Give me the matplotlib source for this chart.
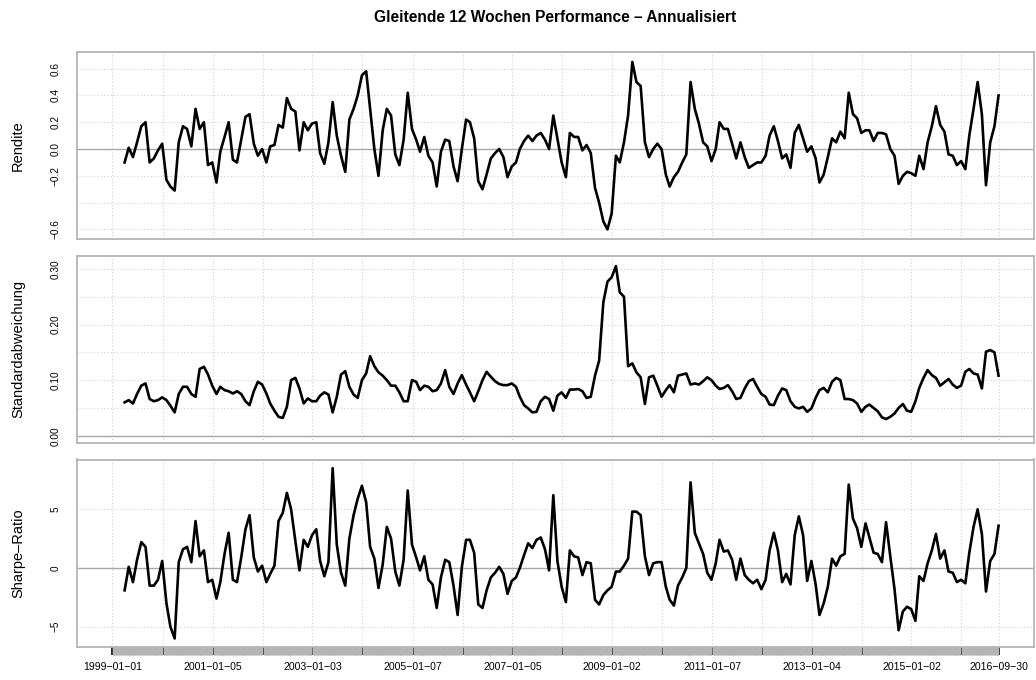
import matplotlib
matplotlib.use("Agg")
import matplotlib.pyplot as plt
import pandas as pd

plt.rcParams['font.family'] = ['Liberation Sans', 'DejaVu Sans']

# month-end sample points, 1999-03 .. 2016-09
dates = pd.date_range("1999-03-31", "2016-09-30", freq="ME")

rendite = [
    -0.10, 0.01, -0.06, 0.05, 0.17, 0.20, -0.10, -0.07, -0.01, 0.04,
    -0.23, -0.28, -0.31, 0.05, 0.17, 0.15, 0.02, 0.30, 0.15, 0.20,
    -0.12, -0.10, -0.25, -0.02, 0.09, 0.20, -0.08, -0.10, 0.07, 0.24,
    0.26, 0.04, -0.05, 0.00, -0.10, 0.02, 0.03, 0.18, 0.16, 0.38,
    0.30, 0.28, -0.01, 0.20, 0.14, 0.19, 0.20, -0.03, -0.11, 0.05,
    0.35, 0.10, -0.05, -0.17, 0.22, 0.30, 0.40, 0.55, 0.58, 0.30,
    0.00, -0.20, 0.14, 0.30, 0.25, -0.04, -0.12, 0.07, 0.42, 0.15,
    0.07, -0.02, 0.09, -0.05, -0.10, -0.28, -0.02, 0.07, 0.06, -0.13,
    -0.24, 0.00, 0.22, 0.20, 0.08, -0.24, -0.30, -0.19, -0.07, -0.03,
    0.00, -0.06, -0.21, -0.13, -0.10, 0.00, 0.06, 0.10, 0.06, 0.10,
    0.12, 0.07, 0.00, 0.25, 0.08, -0.10, -0.21, 0.12, 0.09, 0.09,
    -0.01, 0.03, -0.03, -0.29, -0.40, -0.54, -0.60, -0.48, -0.05, -0.10,
    0.05, 0.25, 0.65, 0.50, 0.47, 0.05, -0.06, 0.00, 0.04, 0.00,
    -0.19, -0.28, -0.21, -0.17, -0.10, -0.04, 0.50, 0.30, 0.19, 0.05,
    0.02, -0.09, 0.00, 0.20, 0.15, 0.15, 0.04, -0.07, 0.05, -0.06,
    -0.14, -0.12, -0.10, -0.10, -0.05, 0.10, 0.17, 0.06, -0.07, -0.04,
    -0.14, 0.12, 0.18, 0.08, -0.02, 0.02, -0.07, -0.25, -0.19, -0.06,
    0.08, 0.05, 0.13, 0.08, 0.42, 0.26, 0.23, 0.12, 0.14, 0.14,
    0.06, 0.12, 0.12, 0.11, 0.00, -0.05, -0.26, -0.20, -0.17, -0.18,
    -0.20, -0.05, -0.15, 0.05, 0.17, 0.32, 0.18, 0.13, -0.04, -0.05,
    -0.12, -0.09, -0.15, 0.10, 0.30, 0.50, 0.26, -0.27, 0.05, 0.17,
    0.40,
]

stdabw = [
    0.060, 0.064, 0.058, 0.075, 0.090, 0.094, 0.066, 0.062, 0.064, 0.069,
    0.064, 0.054, 0.042, 0.075, 0.088, 0.088, 0.075, 0.070, 0.120, 0.124,
    0.110, 0.090, 0.075, 0.088, 0.082, 0.080, 0.076, 0.080, 0.075, 0.062,
    0.055, 0.080, 0.097, 0.092, 0.076, 0.058, 0.045, 0.034, 0.032, 0.052,
    0.100, 0.104, 0.085, 0.058, 0.067, 0.062, 0.062, 0.072, 0.078, 0.074,
    0.042, 0.070, 0.110, 0.116, 0.088, 0.074, 0.068, 0.100, 0.112, 0.143,
    0.125, 0.114, 0.108, 0.100, 0.090, 0.090, 0.078, 0.062, 0.062, 0.100,
    0.097, 0.082, 0.090, 0.088, 0.080, 0.082, 0.094, 0.118, 0.088, 0.075,
    0.094, 0.109, 0.092, 0.078, 0.062, 0.080, 0.100, 0.115, 0.106, 0.098,
    0.093, 0.091, 0.091, 0.094, 0.088, 0.070, 0.055, 0.049, 0.042, 0.043,
    0.062, 0.070, 0.066, 0.045, 0.072, 0.078, 0.068, 0.083, 0.083, 0.084,
    0.080, 0.068, 0.070, 0.108, 0.135, 0.240, 0.277, 0.285, 0.305, 0.258,
    0.250, 0.125, 0.130, 0.114, 0.105, 0.057, 0.105, 0.108, 0.090, 0.070,
    0.082, 0.091, 0.078, 0.108, 0.110, 0.112, 0.092, 0.094, 0.092, 0.098,
    0.105, 0.100, 0.090, 0.084, 0.086, 0.091, 0.080, 0.066, 0.068, 0.085,
    0.098, 0.102, 0.088, 0.075, 0.070, 0.056, 0.055, 0.072, 0.085, 0.082,
    0.062, 0.052, 0.049, 0.052, 0.043, 0.049, 0.068, 0.082, 0.086, 0.078,
    0.097, 0.104, 0.100, 0.066, 0.066, 0.064, 0.058, 0.043, 0.052, 0.056,
    0.050, 0.044, 0.033, 0.030, 0.034, 0.040, 0.050, 0.057, 0.045, 0.043,
    0.062, 0.086, 0.104, 0.118, 0.109, 0.104, 0.090, 0.096, 0.102, 0.092,
    0.086, 0.090, 0.115, 0.120, 0.112, 0.110, 0.085, 0.151, 0.154, 0.150,
    0.108,
]

sharpe = [
    -1.9, 0.1, -1.2, 0.7, 2.2, 1.8, -1.5, -1.5, -1.0, 0.6,
    -3.0, -5.0, -6.0, 0.5, 1.6, 1.8, 0.5, 4.0, 1.0, 1.5,
    -1.2, -1.0, -2.6, -1.2, 1.2, 3.0, -1.0, -1.2, 0.9, 3.3,
    4.5, 0.9, -0.3, 0.2, -1.2, -0.5, 0.2, 4.0, 4.7, 6.4,
    5.0, 2.3, -0.2, 2.4, 1.8, 2.8, 3.3, 0.6, -0.7, 0.5,
    8.5, 2.0, -0.4, -1.5, 2.5, 4.5, 5.9, 7.0, 5.6, 1.8,
    0.8, -1.7, 0.3, 3.5, 2.5, -0.3, -1.5, 0.7, 6.6, 2.0,
    0.9, -0.2, 1.0, -1.0, -1.4, -3.4, -0.8, 0.7, 0.5, -1.5,
    -4.0, 0.1, 2.4, 2.4, 1.3, -3.1, -3.4, -1.9, -0.8, -0.4,
    0.1, -0.5, -2.2, -1.1, -0.8, 0.0, 1.1, 2.1, 1.7, 2.4,
    2.6, 1.6, -0.2, 6.2, 0.6, -1.6, -2.9, 1.5, 1.0, 0.9,
    -0.6, 0.5, 0.4, -2.7, -3.1, -2.3, -1.9, -1.6, -0.3, -0.3,
    0.2, 0.8, 4.8, 4.8, 4.5, 1.0, -0.6, 0.4, 0.5, 0.5,
    -1.6, -2.7, -3.2, -1.5, -0.8, 0.0, 7.3, 3.0, 2.1, 1.2,
    -0.4, -1.0, 0.4, 2.4, 1.4, 1.5, 0.7, -1.0, 0.8, -0.6,
    -1.0, -1.3, -1.0, -1.8, -1.0, 1.5, 3.0, 1.5, -1.2, -0.5,
    -1.4, 2.8, 4.4, 2.8, -1.1, 0.6, -1.4, -4.0, -3.0, -1.6,
    0.8, 0.2, 1.0, 1.2, 7.1, 4.2, 3.4, 1.8, 3.8, 2.6,
    1.3, 1.2, 0.5, 3.9, 1.0, -1.8, -5.3, -3.7, -3.3, -3.5,
    -4.5, -0.7, -1.1, 0.4, 1.5, 2.9, 0.8, 1.5, -0.3, -0.4,
    -1.2, -1.0, -1.3, 1.3, 3.5, 5.0, 2.9, -2.0, 0.6, 1.2,
    3.6,
]

# axis ticks (first weekly date of each year) and labels
tick_dates = ["1999-01-01", "2000-01-07", "2001-01-05", "2002-01-04", "2003-01-03",
              "2004-01-02", "2005-01-07", "2006-01-06", "2007-01-05", "2008-01-04",
              "2009-01-02", "2010-01-01", "2011-01-07", "2012-01-06", "2013-01-04",
              "2014-01-03", "2015-01-02", "2016-01-01", "2016-09-30"]
tick_labels = ["1999\u221201\u221201", "", "2001\u221201\u221205", "", "2003\u221201\u221203",
               "", "2005\u221201\u221207", "", "2007\u221201\u221205", "",
               "2009\u221201\u221202", "", "2011\u221201\u221207", "", "2013\u221201\u221204",
               "", "2015\u221201\u221202", "", "2016\u221209\u221230"]

panels = [
    ("Rendite", rendite, (-0.669, 0.724),
     [-0.6, -0.4, -0.2, 0.0, 0.2, 0.4, 0.6],
     ["\u22120.6", "", "\u22120.2", "0.0", "0.2", "0.4", "0.6"]),
    ("Standardabweichung", stdabw, (-0.0122, 0.3232),
     [0.0, 0.05, 0.10, 0.15, 0.20, 0.25, 0.30],
     ["0.00", "", "0.10", "", "0.20", "", "0.30"]),
    ("Sharpe\u2013Ratio", sharpe, (-6.70, 9.24),
     [-5, 0, 5],
     ["\u22125", "0", "5"]),
]

W, H = 1036, 680
fig = plt.figure(figsize=(W / 100, H / 100), dpi=100)

# panel boxes in pixels: (top, bottom)
boxes = [(52, 238.7), (256, 442.5), (459.5, 646.7)]
left_px, right_px = 77, 1034

start = pd.Timestamp("1999-01-01")
end = pd.Timestamp("2016-09-30")
span = end - start
ticks = pd.to_datetime(tick_dates)
weeks = pd.date_range(start, end, freq="W-FRI")

grid_kw = dict(color="#D0D0D0", lw=0.8, linestyle=(0, (1, 2)))

for i, (label, vals, ylim, yt, ytl) in enumerate(panels):
    top, bot = boxes[i]
    ax = fig.add_axes([left_px / W, 1 - bot / H, (right_px - left_px) / W, (bot - top) / H])
    ax.set_xlim(start - 0.04 * span, end + 0.04 * span)
    ax.set_ylim(*ylim)

    for t in ticks:
        ax.axvline(t, zorder=1, **grid_kw)
    for y in yt:
        if y != 0:
            ax.axhline(y, zorder=1, **grid_kw)
    ax.axhline(0, color="#A8A8A8", lw=1.0, zorder=2)

    ax.plot(dates, vals, color="black", lw=1.9, zorder=3)

    ax.set_yticks(yt)
    ax.set_yticklabels(ytl)
    ax.tick_params(axis="y", length=0, pad=12, labelsize=7.2, labelrotation=90)
    for lab in ax.get_yticklabels():
        lab.set_verticalalignment("center")

    for s in ax.spines.values():
        s.set_color("#B5B5B5")
        s.set_linewidth(1.3)

    if i < 2:
        ax.set_xticks([])
    else:
        ax.set_xticks(ticks)
        ax.set_xticklabels(tick_labels)
        ax.set_xticks(weeks, minor=True)
        ax.tick_params(axis="x", which="major", length=6, width=1.2, color="black",
                       labelsize=7.6, pad=5)
        ax.tick_params(axis="x", which="minor", length=6, width=1.0, color="#B4B4B4")

    fig.text(18 / W, 1 - (top + bot) / 2 / H, label, rotation=90,
             ha="center", va="center", fontsize=10.5)

fig.text(555 / W, 1 - 18 / H, "Gleitende 12 Wochen Performance \u2013 Annualisiert",
         ha="center", va="center", fontsize=11.2, fontweight="bold")

fig.savefig("out.png", dpi=100)
